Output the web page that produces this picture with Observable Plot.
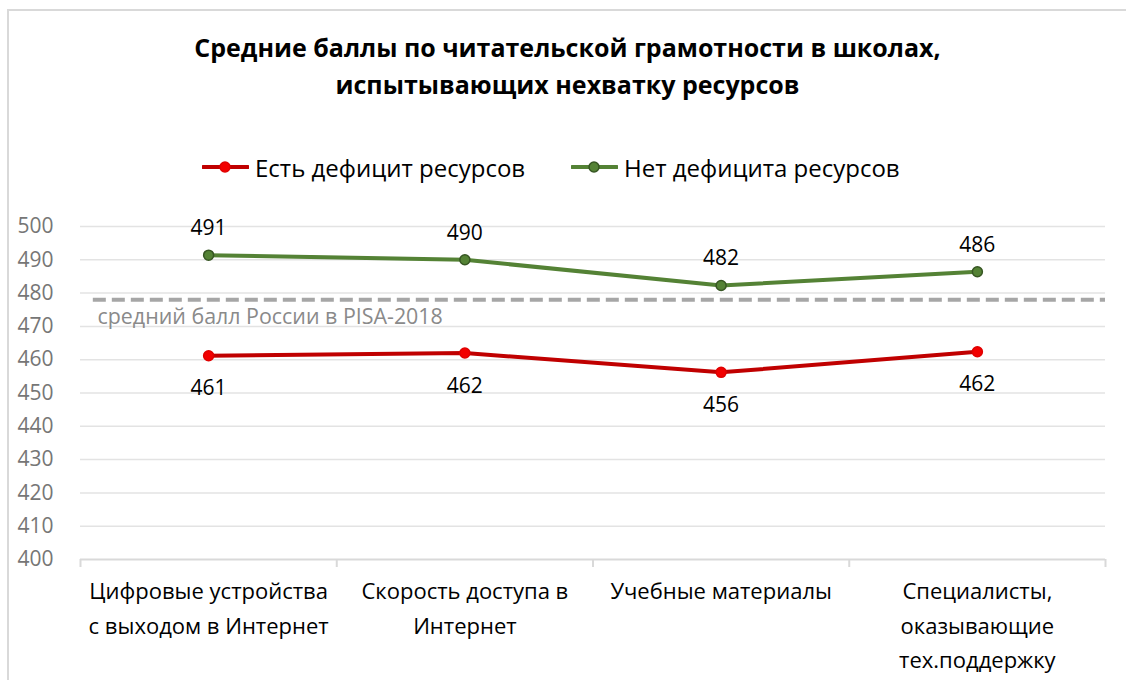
<!DOCTYPE html>
<html>
<head>
<meta charset="utf-8">
<script src="https://cdn.jsdelivr.net/npm/d3@7"></script>
<script src="https://cdn.jsdelivr.net/npm/@observablehq/plot@0.6"></script>
<style>
  html, body { margin: 0; padding: 0; background: #fff; }
  body { width: 1126px; height: 680px; overflow: hidden; position: relative; font-family: "Open Sans", sans-serif; }
  #frame { position: absolute; left: 7px; top: 9px; width: 1400px; height: 900px; border: 2px solid #d9d9d9; }
  #title { position: absolute; left: 0; top: 29px; width: 1135px; text-align: center; font-weight: 700; font-size: 25px; line-height: 37px; color: #000; }
  #legend { position: absolute; left: 0; top: 150px; width: 1126px; height: 34px; }
  .item { position: absolute; top: 0; display: flex; align-items: center; height: 34px; font-size: 24px; color: #000; }
  .item svg { margin-right: 6px; }
  #chart { position: absolute; left: 0; top: 190px; }
</style>
</head>
<body>
<div id="frame"></div>
<div id="title"></div>
<div id="legend"></div>
<div id="chart"></div>
<script>
// ---- data ----
const titleLines = ["Средние баллы по читательской грамотности в школах,", "испытывающих нехватку ресурсов"];
const categories = [
  "Цифровые устройства\nс выходом в Интернет",
  "Скорость доступа в\nИнтернет",
  "Учебные материалы",
  "Специалисты,\nоказывающие\nтех.поддержку"
];
const seriesNames = ["Есть дефицит ресурсов", "Нет дефицита ресурсов"];
const deficitValues = [461.2, 462.0, 456.2, 462.4];
const noDeficitValues = [491.4, 490.0, 482.3, 486.4];
const lineColors = ["#c00000", "#548235"];
const dotFills = ["#f20000", "#548235"];
const dotStrokes = ["#e00000", "#375623"];
const yTicks = [400, 410, 420, 430, 440, 450, 460, 470, 480, 490, 500];
const refValue = 478;
const refLabel = "средний балл России в PISA-2018";

// ---- title ----
document.getElementById("title").innerHTML = titleLines.join("<br>");

// ---- legend ----
const legendX = [202, 571];
const legend = document.getElementById("legend");
seriesNames.forEach((name, k) => {
  const div = document.createElement("div");
  div.className = "item";
  div.style.left = legendX[k] + "px";
  div.innerHTML = `<svg width="47" height="14"><line x1="1" y1="7" x2="46" y2="7" stroke="${lineColors[k]}" stroke-width="4" stroke-linecap="round"/><circle cx="23" cy="7" r="5" fill="${dotFills[k]}" stroke="${dotStrokes[k]}" stroke-width="1.5"/></svg><span>${name}</span>`;
  legend.appendChild(div);
});

// ---- table ----
const rows = [];
[deficitValues, noDeficitValues].forEach((vals, k) => {
  vals.forEach((v, i) => rows.push({series: seriesNames[k], i, value: v}));
});
const boundaries = d3.range(-0.5, categories.length, 1);

const chart = Plot.plot({
  width: 1126,
  height: 490,
  marginLeft: 80,
  marginRight: 21,
  marginTop: 36,
  marginBottom: 121,
  style: {fontFamily: "'Open Sans', sans-serif", background: "transparent"},
  x: {type: "linear", domain: [-0.5, categories.length - 0.5], axis: null},
  y: {domain: [400, 500], axis: null},
  color: {domain: seriesNames, range: lineColors},
  marks: [
    Plot.gridY(yTicks.slice(1), {stroke: "#e3e3e3", strokeOpacity: 1, strokeWidth: 1.5, x1: -0.5, x2: categories.length - 0.5}),
    Plot.axisY(yTicks, {label: null, tickSize: 0, tickPadding: 27, fontSize: 21, fill: "#767676", tickFormat: d => d}),
    Plot.axisX(boundaries, {label: null, tickSize: 8, tickFormat: () => "", stroke: "#d9d9d9", strokeWidth: 2}),
    Plot.ruleY([400], {stroke: "#d9d9d9", strokeWidth: 2}),
    Plot.ruleY([refValue], {stroke: "#a6a6a6", strokeWidth: 4, strokeDasharray: "13,6", x1: -0.45, x2: categories.length - 0.5}),
    Plot.text([refLabel], {frameAnchor: "left", y: refValue, dx: 17, dy: 17, textAnchor: "start", fill: "#8a8a8a", fontSize: 21.4}),
    Plot.line(rows, {x: "i", y: "value", z: "series", stroke: "series", strokeWidth: 4}),
    Plot.dot(rows, {x: "i", y: "value", r: 5, fill: d => dotFills[seriesNames.indexOf(d.series)], stroke: d => dotStrokes[seriesNames.indexOf(d.series)], strokeWidth: 1.5}),
    Plot.text(rows.filter(d => d.series === seriesNames[1]), {x: "i", y: "value", text: d => Math.round(d.value), dy: -27, fontSize: 21, fill: "#000"}),
    Plot.text(rows.filter(d => d.series === seriesNames[0]), {x: "i", y: "value", text: d => Math.round(d.value), dy: 33, fontSize: 21, fill: "#000"}),
    Plot.text(categories, {x: (d, i) => i, frameAnchor: "bottom", dy: 15, lineAnchor: "top", lineHeight: 1.57, fontSize: 22, fill: "#000", text: d => d})
  ]
});
document.getElementById("chart").appendChild(chart);
</script>
</body>
</html>
